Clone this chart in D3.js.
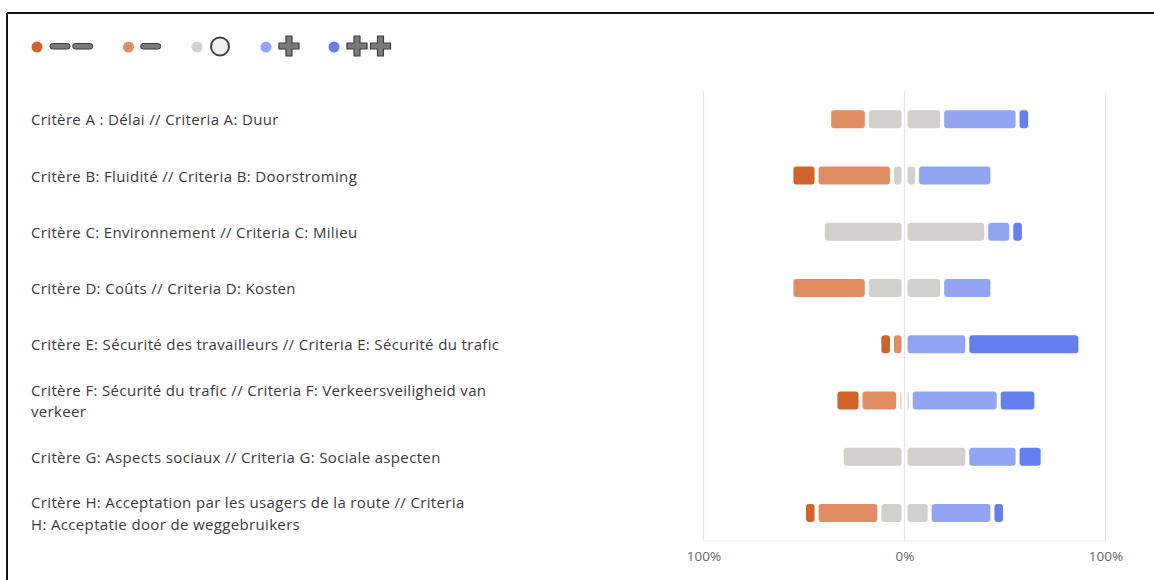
<!DOCTYPE html>
<html lang="en">
<head>
  <meta charset="UTF-8">
  <title>Criteria</title>
  <script src="https://cdn.jsdelivr.net/npm/d3@7"></script>
  <style>
    body { margin: 0; background: #fff; }
    svg { display: block; font-family: "Segoe UI", "Open Sans", sans-serif; }
  </style>
</head>
<body>
  <div id="container"></div>
  <script>
    const svg_width = 1154;
    const svg_height = 580;

    // data (percent of answers), "\n" where the label breaks
    const categories = [
      "Critère A : Délai // Criteria A: Duur",
      "Critère B: Fluidité // Criteria B: Doorstroming",
      "Critère C: Environnement // Criteria C: Milieu",
      "Critère D: Coûts // Criteria D: Kosten",
      "Critère E: Sécurité des travailleurs // Criteria E: Sécurité du trafic",
      "Critère F: Sécurité du trafic // Criteria F: Verkeersveiligheid van\nverkeer",
      "Critère G: Aspects sociaux // Criteria G: Sociale aspecten",
      "Critère H: Acceptation par les usagers de la route // Criteria\nH: Acceptatie door de weggebruikers"
    ];
    const veryNegative = [0, 12.5, 0, 0, 6.25, 12.5, 0, 6.25];
    const negative = [18.75, 37.5, 0, 37.5, 6.25, 18.75, 0, 31.25];
    const neutral = [37.5, 12.5, 81.25, 37.5, 0, 6.25, 62.5, 25];
    const positive = [37.5, 37.5, 12.5, 25, 31.25, 43.75, 25, 31.25];
    const veryPositive = [6.25, 0, 6.25, 0, 56.25, 18.75, 12.5, 6.25];
    const tickValues = [-100, 0, 100];

    const colors = ["#d0622a", "#e08d64", "#d3d1ce", "#92a5f2", "#6580ee"];

    const svg = d3.select("#container")
      .append("svg")
      .attr("width", svg_width)
      .attr("height", svg_height);

    // frame (top + left)
    svg.append("line").attr("x1", 7).attr("x2", svg_width).attr("y1", 13).attr("y2", 13)
      .attr("stroke", "#111").attr("stroke-width", 2);
    svg.append("line").attr("x1", 7).attr("x2", 7).attr("y1", 13).attr("y2", svg_height)
      .attr("stroke", "#111").attr("stroke-width", 2);

    // scales
    const x = d3.scaleLinear().domain([-100, 100]).range([703.5, 1105.5]);
    const y = d3.scaleBand().domain(categories).range([91, 541]).paddingInner(0.68).paddingOuter(0.34);

    // plot frame + zero line
    const grid = svg.append("g").attr("stroke", "#e6e6e6").attr("stroke-width", 1.2);
    grid.append("line").attr("x1", x(-100)).attr("x2", x(-100)).attr("y1", 91).attr("y2", 541);
    grid.append("line").attr("x1", x(100)).attr("x2", x(100)).attr("y1", 91).attr("y2", 541);
    grid.append("line").attr("x1", x(-100)).attr("x2", x(100)).attr("y1", 541).attr("y2", 541);
    grid.append("line").attr("x1", x(0)).attr("x2", x(0)).attr("y1", 91).attr("y2", 541);

    // axis
    const xAxis = d3.axisBottom(x).tickValues(tickValues).tickSize(0).tickPadding(10)
      .tickFormat(d => Math.abs(d) + "%");
    const gx = svg.append("g").attr("transform", "translate(0,541)").call(xAxis);
    gx.select(".domain").remove();
    gx.selectAll("text").attr("fill", "#666").style("font-size", "13.5px")
      .style("font-family", "\"Segoe UI\", \"Open Sans\", sans-serif");

    // segments per row
    const rows = categories.map((c, i) => {
      const vals = [veryNegative[i], negative[i], neutral[i] / 2, neutral[i] / 2, positive[i], veryPositive[i]];
      let start = -(veryNegative[i] + negative[i] + neutral[i] / 2);
      return vals.map((v, k) => {
        const seg = { cat: c, x0: start, x1: start + v, color: colors[k < 3 ? k : k - 1] };
        start += v;
        return seg;
      }).filter(s => s.x1 - s.x0 > 0);
    });

    const gap = 2;
    svg.append("g")
      .selectAll("g")
      .data(rows)
      .join("g")
      .selectAll("rect")
      .data(d => d)
      .join("rect")
      .attr("x", d => x(d.x0) + (d.x0 === 0 ? 3 : gap))
      .attr("y", d => y(d.cat))
      .attr("width", d => Math.max(0.5, x(d.x1) - x(d.x0) - (d.x0 === 0 || d.x1 === 0 ? 3 + gap : gap * 2)))
      .attr("height", y.bandwidth())
      .attr("rx", 3)
      .attr("fill", d => d.color);

    // category labels
    const lh = 21.5;
    svg.append("g")
      .selectAll("text")
      .data(categories)
      .join("text")
      .attr("fill", "#3b3b3b")
      .style("font-size", "15px")
      .style("letter-spacing", "0.35px")
      .each(function (d) {
        const lines = d.split("\n");
        const cy = y(d) + y.bandwidth() / 2 + 1;
        d3.select(this).selectAll("tspan")
          .data(lines)
          .join("tspan")
          .attr("x", 31)
          .attr("y", (l, j) => cy - (lines.length - 1) * lh / 2 + j * lh)
          .attr("dy", "0.35em")
          .text(l => l);
      });

    // legend
    const legend = svg.append("g");
    const dotX = [37, 128.5, 197, 266, 334];
    legend.selectAll("circle.dot")
      .data(colors)
      .join("circle")
      .attr("class", "dot")
      .attr("cx", (d, i) => dotX[i])
      .attr("cy", 47)
      .attr("r", 5.5)
      .attr("fill", d => d);

    const iconFill = "#7a7a7a";
    const iconStroke = "#3c3c3c";
    // minus signs
    [50, 72.7, 140.7].forEach(px => {
      legend.append("rect")
        .attr("x", px).attr("y", 43.5).attr("width", 20).attr("height", 5.5).attr("rx", 2.5)
        .attr("fill", iconFill).attr("stroke", iconStroke).attr("stroke-width", 1);
    });
    // neutral circle
    legend.append("circle")
      .attr("cx", 220).attr("cy", 46.5).attr("r", 9)
      .attr("fill", "#f2f2f2").attr("stroke", "#444").attr("stroke-width", 2);
    // plus signs
    const plus = "M-3,-10H3V-3H10V3H3V10H-3V3H-10V-3H-3Z";
    [289, 357, 380.5].forEach(px => {
      legend.append("path")
        .attr("d", plus)
        .attr("transform", "translate(" + px + ",46)")
        .attr("fill", iconFill).attr("stroke", iconStroke).attr("stroke-width", 1.2)
        .attr("stroke-linejoin", "round");
    });
  </script>
</body>
</html>
